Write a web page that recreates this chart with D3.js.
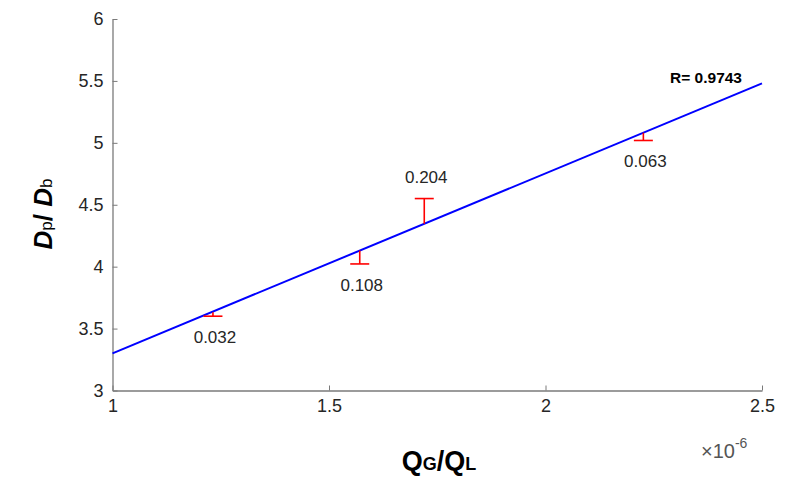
<!DOCTYPE html>
<html>
<head>
<meta charset="utf-8">
<script src="https://cdn.jsdelivr.net/npm/d3@7/dist/d3.min.js"></script>
<style>
  html, body { margin: 0; padding: 0; background: #fff; }
  svg { display: block; }
</style>
</head>
<body>
<svg id="chart" width="791" height="481"></svg>
<script>
// ---- data ----
const xTicks = [1, 1.5, 2, 2.5];
const yTicks = [3, 3.5, 4, 4.5, 5, 5.5, 6];
const xTickLabels = ["1", "1.5", "2", "2.5"];
const yTickLabels = ["3", "3.5", "4", "4.5", "5", "5.5", "6"];

// fitted line endpoints
const fitX = [1, 2.5];
const fitY = [3.30, 5.48];
const rLabel = "R= 0.9743";

// error bar points (on fitted line)
const pointX = [1.232, 1.571, 1.720, 2.226];
const pointY = [3.632, 4.130, 4.346, 5.082];
const errLow = [0.032, 0.108, 0, 0.063];
const errHigh = [0, 0, 0.204, 0];
const errLabels = ["0.032", "0.108", "0.204", "0.063"];

// ---- chart ----
const svg = d3.select("#chart");
const x = d3.scaleLinear().domain([1, 2.5]).range([112.5, 762]);
const y = d3.scaleLinear().domain([3, 6]).range([390.5, 19]);

const axisColor = "#7a7a7a";
const textColor = "#262626";
const font = "'Liberation Sans', Arial, sans-serif";

const gx = svg.append("g").attr("transform", `translate(0,${y(3)})`)
  .call(d3.axisBottom(x).tickValues(xTicks).tickFormat((d, i) => xTickLabels[i])
    .tickSizeInner(-5).tickSizeOuter(0).tickPadding(9));
const gy = svg.append("g").attr("transform", `translate(${x(1)},0)`)
  .call(d3.axisLeft(y).tickValues(yTicks).tickFormat((d, i) => yTickLabels[i])
    .tickSizeInner(-5).tickSizeOuter(0).tickPadding(9));

[gx, gy].forEach(g => {
  g.select(".domain").attr("stroke", axisColor).attr("stroke-width", 1.3);
  g.selectAll(".tick line").attr("stroke", axisColor).attr("stroke-width", 1);
  g.selectAll(".tick text").attr("fill", textColor)
    .style("font-family", font).style("font-size", "18px");
});

// fitted line
const line = d3.line().x(d => x(d[0])).y(d => y(d[1]));
svg.append("path")
  .datum(fitX.map((v, i) => [v, fitY[i]]))
  .attr("d", line).attr("fill", "none").attr("stroke", "#0000ff").attr("stroke-width", 2);

// error bars
const pts = pointX.map((v, i) => ({
  x: v, y: pointY[i], lo: pointY[i] - errLow[i], hi: pointY[i] + errHigh[i],
  up: errHigh[i] > 0, label: errLabels[i]
}));
const eb = svg.append("g").attr("stroke", "#ff0000").attr("stroke-width", 1.6);
eb.selectAll("line.stem").data(pts).enter().append("line")
  .attr("x1", d => x(d.x)).attr("x2", d => x(d.x))
  .attr("y1", d => y(d.lo)).attr("y2", d => y(d.hi));
eb.selectAll("line.cap").data(pts).enter().append("line")
  .attr("x1", d => x(d.x) - 9.5).attr("x2", d => x(d.x) + 9.5)
  .attr("y1", d => y(d.up ? d.hi : d.lo)).attr("y2", d => y(d.up ? d.hi : d.lo));

svg.selectAll("text.errlab").data(pts).enter().append("text")
  .attr("x", d => x(d.x) + 2)
  .attr("y", d => d.up ? y(d.hi) - 16 : y(d.lo) + 27)
  .attr("text-anchor", "middle")
  .attr("fill", textColor)
  .style("font-family", font).style("font-size", "17px")
  .text(d => d.label);

// R label
svg.append("text").attr("x", 742).attr("y", y(5.48))
  .attr("text-anchor", "end").attr("fill", "#000")
  .style("font-family", font).style("font-size", "15.5px")
  .style("font-weight", "bold").text(rLabel);

// exponent
const ex = svg.append("text").attr("x", 701).attr("y", 458).attr("fill", "#555")
  .style("font-family", font).style("font-size", "20px");
ex.append("tspan").text("\u00d710");
ex.append("tspan").attr("dy", -10).style("font-size", "14px").text("-6");

// x axis label
const xl = svg.append("text").attr("x", 439).attr("y", 470).attr("text-anchor", "middle")
  .attr("fill", "#000").style("font-family", font)
  .style("font-weight", "bold").style("font-size", "27px");
xl.append("tspan").text("Q");
xl.append("tspan").style("font-size", "18px").text("G");
xl.append("tspan").text("/Q");
xl.append("tspan").style("font-size", "18px").text("L");

// y axis label
const yl = svg.append("text").attr("transform", "translate(52,214) rotate(-90)")
  .attr("text-anchor", "middle").attr("fill", "#000")
  .style("font-family", font)
  .style("font-weight", "bold").style("font-size", "26px");
yl.append("tspan").style("font-style", "italic").text("D");
yl.append("tspan").style("font-size", "17px").style("font-weight", "normal").text("p");
yl.append("tspan").text("/ ");
yl.append("tspan").style("font-style", "italic").text("D");
yl.append("tspan").style("font-size", "17px").style("font-weight", "normal").text("b");
</script>
</body>
</html>
